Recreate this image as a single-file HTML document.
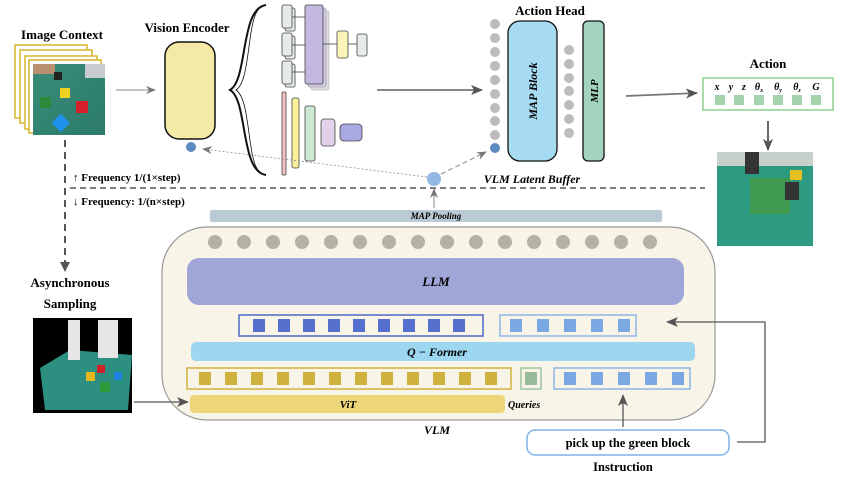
<!DOCTYPE html>
<html><head><meta charset="utf-8"><style>
html,body{margin:0;padding:0;background:#fff;}
svg{display:block;font-family:"Liberation Serif",serif;}
.b{font-weight:bold;}
.i{font-style:italic;font-weight:bold;}
</style></head><body>
<svg width="844" height="479" viewBox="0 0 844 479" xmlns="http://www.w3.org/2000/svg">
<defs>
<marker id="ah" markerWidth="10" markerHeight="8" refX="9" refY="4" orient="auto" markerUnits="userSpaceOnUse"><path d="M0,0 L10,4 L0,8 L3,4z" fill="#777"/></marker>
<marker id="ahd" markerWidth="12" markerHeight="10" refX="11" refY="5" orient="auto" markerUnits="userSpaceOnUse"><path d="M0,0 L12,5 L0,10 L3,5z" fill="#555"/></marker>
<linearGradient id="gr" x1="0" y1="0" x2="1" y2="1"><stop offset="0" stop-color="#3a8c78"/><stop offset="1" stop-color="#2b7a6a"/></linearGradient>
</defs>

<!-- Image Context -->
<text x="62" y="39" class="b" font-size="13" text-anchor="middle">Image Context</text>
<rect x="15" y="45" width="72" height="73" fill="#fff" stroke="#d9b32a" stroke-width="1.5"/>
<rect x="20" y="50" width="72" height="73" fill="#fff" stroke="#d9b32a" stroke-width="1.5"/>
<rect x="25" y="56" width="72" height="73" fill="#fff" stroke="#d9b32a" stroke-width="1.5"/>
<rect x="29" y="60" width="72" height="73" fill="#fff" stroke="#d9b32a" stroke-width="1.5"/>
<rect x="33" y="64" width="72" height="71" fill="url(#gr)"/>
<rect x="33" y="64" width="22" height="10" fill="#b89070"/>
<rect x="85" y="64" width="20" height="14" fill="#c8ccd0"/>
<rect x="54" y="72" width="8" height="8" fill="#222"/>
<rect x="60" y="88" width="10" height="10" fill="#f0d020"/>
<rect x="40" y="97" width="11" height="11" fill="#2a8a3a"/>
<rect x="76" y="101" width="12" height="12" fill="#d8202a"/>
<rect x="54" y="116" width="13" height="13" fill="#1e90ee" transform="rotate(45 60 123)"/>
<line x1="116" y1="90" x2="155" y2="90" stroke="#888" stroke-width="1" marker-end="url(#ah)"/>

<!-- Vision Encoder -->
<text x="187" y="32" class="b" font-size="13" text-anchor="middle">Vision Encoder</text>
<rect x="165" y="42" width="50" height="97" rx="14" fill="#f5e9a6" stroke="#111" stroke-width="1.5"/>
<circle cx="191" cy="147" r="5" fill="#5b8bbf"/>
<path d="M266,5 C240,8 248,80 230,90 C248,100 240,172 266,175" fill="none" stroke="#111" stroke-width="2"/>
<path d="M262,7 C246,12 252,80 236,90 C252,100 246,168 262,173" fill="none" stroke="#111" stroke-width="0.8"/>
<!-- schematic -->
<g stroke="#444" stroke-width="0.8">
<rect x="285" y="8" width="10" height="23" rx="2" fill="#e6ebea"/>
<rect x="282" y="5" width="10" height="23" rx="2" fill="#e6ebea"/>
<rect x="285" y="36" width="10" height="23" rx="2" fill="#e6ebea"/>
<rect x="282" y="33" width="10" height="23" rx="2" fill="#e6ebea"/>
<rect x="285" y="64" width="10" height="23" rx="2" fill="#e6ebea"/>
<rect x="282" y="61" width="10" height="23" rx="2" fill="#e6ebea"/>
<rect x="311" y="11" width="18" height="79" rx="2" fill="#ddd" stroke="#bbb"/>
<rect x="308" y="8" width="18" height="79" rx="2" fill="#d0c8e6" stroke="#aaa"/>
<rect x="305" y="5" width="18" height="79" rx="2" fill="#c3b8de"/>
<rect x="337" y="31" width="11" height="27" rx="2" fill="#fbf4b8"/>
<rect x="357" y="34" width="10" height="22" rx="2" fill="#e6ebea"/>
<line x1="292" y1="17" x2="305" y2="17"/><line x1="292" y1="45" x2="305" y2="45"/><line x1="292" y1="72" x2="305" y2="72"/>
<line x1="323" y1="44" x2="337" y2="44"/><line x1="348" y1="44" x2="357" y2="44"/>
<rect x="282" y="92" width="4" height="83" rx="1" fill="#f3c2c2"/>
<rect x="292" y="98" width="7" height="70" rx="2" fill="#fbf19a"/>
<rect x="305" y="106" width="10" height="55" rx="2" fill="#cfe8d3"/>
<rect x="321" y="119" width="14" height="27" rx="3" fill="#e3d0ea"/>
<rect x="340" y="124" width="22" height="17" rx="4" fill="#a9a8e0"/>
</g>
<line x1="377" y1="90" x2="482" y2="90" stroke="#777" stroke-width="1.8" marker-end="url(#ahd)"/>

<!-- Action head -->
<text x="550" y="15" class="b" font-size="13" text-anchor="middle">Action Head</text>
<g fill="#bcbcbc">
<circle cx="495" cy="24" r="5"/><circle cx="495" cy="38" r="5"/><circle cx="495" cy="52" r="5"/><circle cx="495" cy="66" r="5"/><circle cx="495" cy="80" r="5"/><circle cx="495" cy="94" r="5"/><circle cx="495" cy="108" r="5"/><circle cx="495" cy="121" r="5"/><circle cx="495" cy="135" r="5"/>
<circle cx="569" cy="50" r="5"/><circle cx="569" cy="64" r="5"/><circle cx="569" cy="78" r="5"/><circle cx="569" cy="91" r="5"/><circle cx="569" cy="105" r="5"/><circle cx="569" cy="119" r="5"/><circle cx="569" cy="133" r="5"/>
</g>
<circle cx="495" cy="148" r="5" fill="#5b8bbf"/>
<rect x="508" y="21" width="49" height="140" rx="12" fill="#a6dbf1" stroke="#111" stroke-width="1.3"/>
<text transform="translate(537,91) rotate(-90)" class="i" font-size="12" text-anchor="middle">MAP Block</text>
<rect x="583" y="21" width="21" height="140" rx="5" fill="#a3d4bd" stroke="#111" stroke-width="1.3"/>
<text transform="translate(598,91) rotate(-90)" class="i" font-size="11" text-anchor="middle">MLP</text>
<line x1="626" y1="96" x2="697" y2="93" stroke="#777" stroke-width="1.8" marker-end="url(#ahd)"/>

<!-- Action -->
<text x="768" y="68" class="b" font-size="13" text-anchor="middle">Action</text>
<rect x="703" y="78" width="130" height="32" fill="#fff" stroke="#a8dcaa" stroke-width="2"/>
<g class="i" font-size="10" text-anchor="middle">
<text x="717" y="90">x</text><text x="731" y="90">y</text><text x="744" y="90">z</text><text x="759" y="90">θ<tspan font-size="6" dy="2">x</tspan></text><text x="778" y="90">θ<tspan font-size="6" dy="2">y</tspan></text><text x="797" y="90">θ<tspan font-size="6" dy="2">z</tspan></text><text x="816" y="90">G</text>
</g>
<g fill="#a3d4ae">
<rect x="715" y="95" width="10" height="10"/><rect x="734" y="95" width="10" height="10"/><rect x="754" y="95" width="10" height="10"/><rect x="773" y="95" width="10" height="10"/><rect x="792" y="95" width="10" height="10"/><rect x="811" y="95" width="10" height="10"/>
</g>
<line x1="768" y1="121" x2="768" y2="150" stroke="#666" stroke-width="2" marker-end="url(#ahd)"/>
<rect x="717" y="152" width="96" height="94" fill="#2f9a82"/>
<rect x="717" y="152" width="96" height="14" fill="#c8d0cc"/>
<rect x="745" y="152" width="14" height="22" fill="#333"/>
<rect x="750" y="178" width="40" height="36" fill="#3f9a50"/>
<rect x="790" y="170" width="12" height="10" fill="#e5c020"/>
<rect x="785" y="182" width="14" height="18" fill="#333"/>

<!-- frequency / buffer -->
<line x1="70" y1="188" x2="705" y2="188" stroke="#333" stroke-width="1.3" stroke-dasharray="6,4"/>
<text x="73" y="181" class="b" font-size="11">↑ Frequency 1/(1×step)</text>
<text x="73" y="205" class="b" font-size="11">↓ Frequency: 1/(n×step)</text>
<text x="532" y="183" class="i" font-size="12" text-anchor="middle">VLM Latent Buffer</text>
<line x1="427" y1="177" x2="203" y2="149" stroke="#999" stroke-width="0.9" stroke-dasharray="2,2" marker-end="url(#ah)"/>
<line x1="441" y1="174" x2="486" y2="152" stroke="#888" stroke-width="1" stroke-dasharray="5,3" marker-end="url(#ah)"/>
<line x1="434" y1="208" x2="434" y2="189" stroke="#888" stroke-width="1" marker-end="url(#ah)"/>
<circle cx="434" cy="179" r="7" fill="#92b8e3"/>

<!-- async -->
<line x1="65" y1="140" x2="65" y2="268" stroke="#555" stroke-width="2" stroke-dasharray="7,5"/>
<path d="M60,262 L65,272 L70,262z" fill="#555"/>
<text x="70" y="287" class="b" font-size="13" text-anchor="middle">Asynchronous</text>
<text x="70" y="308" class="b" font-size="13" text-anchor="middle">Sampling</text>
<rect x="33" y="318" width="99" height="95" fill="#000"/>
<path d="M40,368 L70,350 L132,355 L128,410 L45,410z" fill="#2c8f80"/>
<rect x="68" y="320" width="12" height="40" fill="#e6e6e6"/>
<rect x="98" y="320" width="20" height="38" fill="#e6e6e6"/>
<rect x="86" y="372" width="9" height="9" fill="#e5b820"/>
<rect x="97" y="365" width="8" height="8" fill="#d02028"/>
<rect x="114" y="372" width="8" height="8" fill="#1e80e0"/>
<rect x="100" y="382" width="10" height="10" fill="#2a9a3a"/>

<!-- VLM -->
<rect x="210" y="210" width="452" height="12" rx="2" fill="#bacad3"/>
<text x="436" y="219" class="i" font-size="9" text-anchor="middle">MAP Pooling</text>
<rect x="162" y="227" width="553" height="193" rx="45" fill="#f8f4e8" stroke="#999" stroke-width="1.2"/>
<g fill="#b5b1a5">
<circle cx="215" cy="242" r="7"/><circle cx="244" cy="242" r="7"/><circle cx="273" cy="242" r="7"/><circle cx="302" cy="242" r="7"/><circle cx="331" cy="242" r="7"/><circle cx="360" cy="242" r="7"/><circle cx="389" cy="242" r="7"/><circle cx="418" cy="242" r="7"/><circle cx="447" cy="242" r="7"/><circle cx="476" cy="242" r="7"/><circle cx="505" cy="242" r="7"/><circle cx="534" cy="242" r="7"/><circle cx="563" cy="242" r="7"/><circle cx="592" cy="242" r="7"/><circle cx="621" cy="242" r="7"/><circle cx="650" cy="242" r="7"/>
</g>
<rect x="187" y="258" width="497" height="47" rx="12" fill="#a1a6d8"/>
<text x="436" y="286" class="i" font-size="13" text-anchor="middle">LLM</text>
<rect x="239" y="315" width="244" height="21" fill="none" stroke="#4f67c4" stroke-width="1.5"/>
<g fill="#5570cc">
<rect x="253" y="319" width="12" height="13"/><rect x="278" y="319" width="12" height="13"/><rect x="303" y="319" width="12" height="13"/><rect x="328" y="319" width="12" height="13"/><rect x="353" y="319" width="12" height="13"/><rect x="378" y="319" width="12" height="13"/><rect x="403" y="319" width="12" height="13"/><rect x="428" y="319" width="12" height="13"/><rect x="453" y="319" width="12" height="13"/>
</g>
<rect x="500" y="315" width="136" height="21" fill="none" stroke="#8db5e5" stroke-width="1.5"/>
<g fill="#79a8e2">
<rect x="510" y="319" width="12" height="13"/><rect x="537" y="319" width="12" height="13"/><rect x="564" y="319" width="12" height="13"/><rect x="591" y="319" width="12" height="13"/><rect x="618" y="319" width="12" height="13"/>
</g>
<rect x="191" y="342" width="504" height="19" rx="5" fill="#9dd6ef"/>
<text x="437" y="356" class="i" font-size="12" text-anchor="middle">Q − Former</text>
<rect x="187" y="368" width="324" height="21" fill="none" stroke="#cfb13e" stroke-width="1.5"/>
<g fill="#cfb13e">
<rect x="199" y="372" width="12" height="13"/><rect x="225" y="372" width="12" height="13"/><rect x="251" y="372" width="12" height="13"/><rect x="277" y="372" width="12" height="13"/><rect x="303" y="372" width="12" height="13"/><rect x="329" y="372" width="12" height="13"/><rect x="355" y="372" width="12" height="13"/><rect x="381" y="372" width="12" height="13"/><rect x="407" y="372" width="12" height="13"/><rect x="433" y="372" width="12" height="13"/><rect x="459" y="372" width="12" height="13"/><rect x="485" y="372" width="12" height="13"/>
</g>
<rect x="521" y="368" width="20" height="21" fill="none" stroke="#9cc49e" stroke-width="1.5"/>
<rect x="525" y="372" width="12" height="13" fill="#95bb98"/>
<rect x="554" y="368" width="136" height="21" fill="none" stroke="#8db5e5" stroke-width="1.5"/>
<g fill="#79a8e2">
<rect x="564" y="372" width="12" height="13"/><rect x="591" y="372" width="12" height="13"/><rect x="618" y="372" width="12" height="13"/><rect x="645" y="372" width="12" height="13"/><rect x="672" y="372" width="12" height="13"/>
</g>
<rect x="190" y="395" width="315" height="18" rx="4" fill="#edd57a"/>
<text x="348" y="408" class="i" font-size="11" text-anchor="middle">ViT</text>
<text x="508" y="408" class="i" font-size="10">Queries</text>
<text x="437" y="434" class="i" font-size="12" text-anchor="middle">VLM</text>
<line x1="134" y1="402" x2="188" y2="402" stroke="#555" stroke-width="1.2" marker-end="url(#ahd)"/>

<!-- Instruction -->
<rect x="527" y="430" width="202" height="25" rx="8" fill="#fff" stroke="#7fb0e8" stroke-width="1.5"/>
<text x="628" y="447" class="b" font-size="12.5" text-anchor="middle">pick up the green block</text>
<text x="623" y="471" class="b" font-size="12.5" text-anchor="middle">Instruction</text>
<line x1="623" y1="427" x2="623" y2="395" stroke="#555" stroke-width="1.3" marker-end="url(#ahd)"/>
<polyline points="737,442 765,442 765,322 667,322" fill="none" stroke="#555" stroke-width="1.3" marker-end="url(#ahd)"/>
</svg>
</body></html>
